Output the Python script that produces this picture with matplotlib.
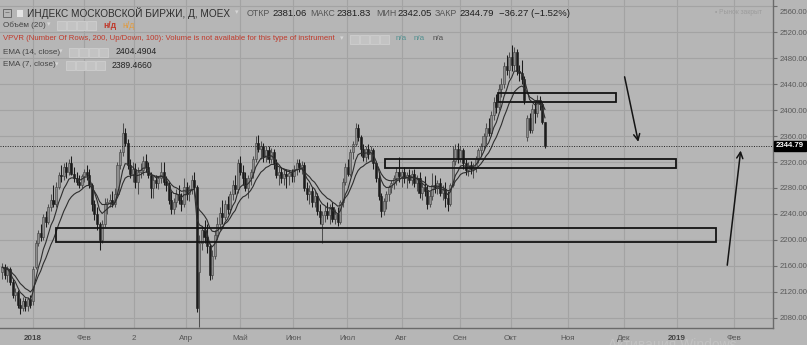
import numpy as np
import pandas as pd
import matplotlib
matplotlib.use("Agg")
import matplotlib.pyplot as plt
from matplotlib.patches import Rectangle
import matplotlib.transforms as mtransforms

plt.rcParams['font.family'] = ['Liberation Sans', 'DejaVu Sans']

# ---- daily OHLC (open, high, low, close) ----
dec17 = [(2150,2165,2140,2158),(2158,2162,2140,2145),(2145,2160,2135,2155),(2155,2158,2130,2135),
         (2135,2140,2110,2115),(2115,2125,2105,2120),(2120,2122,2095,2100),(2100,2110,2085,2095),
         (2095,2112,2090,2105),(2105,2110,2090,2098),(2098,2112,2090,2108),(2108,2115,2095,2100)]
jan = [(2105,2160,2100,2155),(2158,2200,2155,2195),(2195,2215,2190,2210),(2210,2225,2198,2205),
       (2205,2240,2200,2235),(2235,2245,2220,2228),(2228,2255,2225,2250),(2250,2270,2245,2262),
       (2262,2285,2250,2255),(2255,2290,2250,2282),(2282,2305,2278,2300),(2300,2315,2290,2298),
       (2298,2318,2292,2312),(2312,2320,2295,2305),(2305,2325,2300,2318),(2318,2330,2300,2302),
       (2302,2312,2290,2295),(2295,2305,2285,2290),(2290,2300,2280,2285),(2285,2302,2280,2298)]
feb = [(2298,2310,2290,2305),(2305,2315,2292,2300),(2300,2310,2280,2285),(2285,2288,2245,2255),
       (2255,2262,2230,2240),(2240,2250,2215,2225),(2225,2228,2185,2200),(2200,2230,2195,2225),
       (2225,2265,2220,2255),(2255,2265,2240,2258),(2258,2270,2250,2262),(2262,2275,2250,2255),
       (2255,2280,2250,2270),(2270,2320,2268,2315),(2315,2340,2310,2335),(2335,2380,2330,2365),
       (2365,2372,2345,2350),(2350,2355,2310,2315),(2315,2325,2295,2302)]
mar = [(2302,2320,2290,2310),(2310,2318,2280,2290),(2290,2312,2270,2305),(2305,2318,2295,2308),
       (2308,2330,2300,2322),(2322,2332,2305,2312),(2312,2320,2295,2300),(2300,2305,2265,2280),
       (2280,2298,2265,2292),(2292,2300,2280,2288),(2288,2298,2278,2295),(2295,2320,2288,2305),
       (2305,2320,2285,2290),(2290,2298,2275,2285),(2285,2290,2255,2262),(2262,2275,2240,2248),
       (2248,2265,2240,2258),(2258,2278,2250,2270),(2270,2285,2255,2262),(2262,2272,2245,2255)]
apr = [(2255,2295,2250,2282),(2282,2290,2262,2270),(2270,2285,2260,2278),(2278,2300,2270,2292),
       (2292,2305,2275,2282),(2282,2284,2088,2095),(2150,2208,2066,2195),(2195,2222,2185,2215),
       (2215,2230,2195,2205),(2205,2225,2180,2190),(2190,2195,2138,2145),(2145,2185,2140,2175),
       (2175,2215,2170,2208),(2208,2235,2200,2225),(2225,2250,2215,2242),(2242,2262,2225,2235),
       (2235,2262,2230,2255),(2255,2268,2240,2248),(2248,2275,2242,2270),(2270,2292,2262,2285),
       (2285,2300,2270,2278)]
may = [(2278,2325,2272,2318),(2318,2330,2300,2305),(2305,2315,2285,2295),(2295,2305,2275,2280),
       (2280,2300,2265,2295),(2295,2310,2285,2305),(2305,2330,2295,2325),(2325,2360,2320,2350),
       (2350,2362,2335,2340),(2340,2352,2325,2345),(2345,2350,2320,2328),(2328,2345,2320,2338),
       (2338,2345,2318,2325),(2325,2342,2318,2335),(2335,2340,2310,2318),(2318,2325,2295,2300),
       (2300,2312,2285,2305),(2305,2312,2288,2295),(2295,2310,2285,2302),(2302,2310,2280,2298)]
jun = [(2298,2308,2285,2303),(2303,2310,2290,2298),(2298,2315,2290,2310),(2310,2325,2300,2318),
       (2318,2325,2305,2312),(2312,2322,2302,2315),(2315,2320,2275,2280),(2280,2290,2262,2270),
       (2270,2285,2255,2275),(2275,2282,2250,2258),(2258,2275,2250,2268),(2268,2272,2238,2245),
       (2245,2255,2225,2235),(2225,2245,2195,2238),(2238,2252,2228,2245),(2245,2258,2232,2238),
       (2238,2255,2225,2250),(2250,2258,2228,2232),(2232,2248,2225,2240),(2240,2250,2222,2228)]
jul = [(2228,2262,2225,2258),(2258,2295,2250,2290),(2290,2318,2285,2312),(2312,2325,2298,2302),
       (2302,2340,2298,2335),(2335,2352,2325,2348),(2348,2380,2345,2372),(2372,2378,2352,2358),
       (2358,2362,2330,2340),(2340,2348,2322,2328),(2328,2345,2320,2340),(2340,2348,2325,2332),
       (2332,2345,2322,2338),(2338,2342,2310,2318),(2318,2322,2290,2295),(2295,2305,2262,2268),
       (2268,2272,2235,2245),(2245,2265,2238,2260),(2260,2275,2248,2270),(2270,2285,2260,2282),
       (2282,2292,2272,2288),(2288,2300,2278,2295)]
aug = [(2295,2312,2285,2305),(2305,2328,2290,2298),(2298,2310,2282,2305),(2305,2312,2288,2295),
       (2295,2305,2280,2300),(2300,2310,2288,2292),(2292,2308,2285,2302),(2302,2310,2282,2288),
       (2288,2300,2275,2295),(2295,2305,2265,2272),(2272,2290,2262,2282),(2282,2298,2268,2275),
       (2275,2285,2248,2255),(2255,2275,2250,2268),(2268,2303,2262,2285),(2285,2300,2272,2280),
       (2280,2292,2270,2288),(2288,2295,2268,2272),(2272,2285,2262,2278),(2278,2290,2250,2265),
       (2265,2275,2245,2255),(2255,2288,2252,2285),(2285,2345,2282,2322)]
sep = [(2322,2348,2315,2340),(2340,2350,2318,2325),(2325,2345,2320,2338),(2338,2342,2310,2318),
       (2318,2325,2300,2308),(2308,2320,2298,2315),(2315,2322,2302,2310),(2310,2318,2295,2312),
       (2312,2330,2305,2325),(2325,2342,2318,2338),(2338,2350,2330,2345),(2345,2365,2338,2360),
       (2360,2380,2348,2372),(2372,2388,2360,2365),(2365,2398,2360,2392),(2392,2420,2385,2412),
       (2412,2425,2395,2405),(2405,2440,2400,2432),(2432,2450,2420,2440),(2440,2475,2435,2468)]
octo = [(2468,2485,2455,2462),(2462,2490,2450,2482),(2482,2500,2460,2470),(2470,2498,2462,2490),
        (2490,2495,2455,2460),(2460,2470,2445,2458),(2458,2477,2440,2448),(2448,2452,2410,2415),
        (2358,2392,2352,2388),(2388,2395,2365,2370),(2370,2410,2365,2402),(2402,2412,2380,2395),
        (2395,2423,2390,2415),(2415,2422,2400,2410),(2410,2412,2378,2381.06),
        (2381.06,2381.83,2342.05,2344.79)]

last_price = 2344.79
month_labels = ['2018', 'Фев', '2', 'Апр', 'Май', 'Июн', 'Июл', 'Авг', 'Сен', 'Окт', 'Ноя', 'Дек', '2019', 'Фев']
month_pos = [0, 19.9, 39.5, 59.8, 80.9, 101.6, 122.7, 144.0, 166.8, 186.6, 209.0, 230.9, 251.6, 273.8]
price_ticks = list(range(2080, 2561, 40))

# zones drawn on the chart: (x_start, x_end, low, high)
zones = [(9.0, 266.8, 2196.7, 2218.7),
         (137.5, 251.2, 2310.3, 2324.2),
         (181.5, 227.6, 2412.5, 2426.4)]
# arrows: (x_from, y_from, x_to, y_to)
arrows = [(230.9, 2455.7, 236.7, 2347.0),
          (271.1, 2156.6, 276.6, 2342.0)]

bars = dec17 + jan + feb + mar + apr + may + jun + jul + aug + sep + octo
o, h, l, c = map(np.array, zip(*bars))
x = np.arange(len(bars)) - len(dec17)
ema14 = pd.Series(c).ewm(span=14, adjust=False).mean().values
ema7 = pd.Series(c).ewm(span=7, adjust=False).mean().values

W, H = 807, 345
BG = '#b6b6b6'
GRID = '#a3a3a3'
fig = plt.figure(figsize=(W / 100, H / 100), dpi=100, facecolor=BG)
ax = fig.add_axes([0, 17 / H, 773 / W, 328 / H], facecolor=BG)
ax.set_xlim(-12.9, 289.1)
ax.set_ylim(2064, 2570)

ax.set_yticks(price_ticks)
ax.set_yticklabels([f'{v:.2f}' for v in price_ticks])
ax.yaxis.tick_right()
ax.tick_params(axis='y', length=3, color='#6a6a6a', labelsize=5.6, labelcolor='#5a5a5a', pad=2)
top_lab = ax.get_yticklabels()[-1]
top_lab.set_transform(top_lab.get_transform() +
                      mtransforms.ScaledTranslation(0, -5 / 100, fig.dpi_scale_trans))
ax.set_xticks(month_pos)
ax.set_xticklabels(month_labels)
ax.tick_params(axis='x', length=0, labelsize=5.8, labelcolor='#555555', pad=5)
for t in ax.get_xticklabels():
    t.set_zorder(10)
    if t.get_text() in ('2018', '2019'):
        t.set_fontweight('bold')
        t.set_color('#444444')
ax.grid(True, color=GRID, lw=0.8)
ax.set_axisbelow(True)
for s in ('top', 'left'):
    ax.spines[s].set_visible(False)
for s in ('right', 'bottom'):
    ax.spines[s].set_color('#6a6a6a')
    ax.spines[s].set_linewidth(1.0)

up = c >= o
UPC, DNC = '#8e8e8e', '#1c1c1c'
ax.vlines(x, l, h, colors=np.where(up, '#505050', DNC), lw=0.75, zorder=3)
ax.bar(x, np.maximum(np.abs(c - o), 1.0), bottom=np.minimum(o, c), width=0.8,
       color=np.where(up, UPC, DNC), edgecolor=np.where(up, '#404040', DNC), linewidth=0.4, zorder=4)
ax.plot(x, ema14, color='#2e2e2e', lw=0.8, zorder=5)
ax.plot(x, ema7, color='#2e2e2e', lw=0.8, zorder=5)

for x0, x1, lo, hi in zones:
    ax.add_patch(Rectangle((x0, lo), x1 - x0, hi - lo, fill=False, ec='#141414', lw=1.3, zorder=6))
for xf, yf, xt, yt in arrows:
    ax.annotate('', xy=(xt, yt), xytext=(xf, yf),
                arrowprops=dict(arrowstyle='->', color='#141414', lw=1.1, mutation_scale=11), zorder=6)

ax.axhline(last_price, color='#222222', lw=0.7, ls=(0, (1, 1.5)), zorder=6)
trans = mtransforms.blended_transform_factory(ax.transAxes, ax.transData)
ax.text(1.004, last_price, f'{last_price:.2f}', transform=trans, ha='left', va='center',
        fontsize=5.6, fontweight='bold', color='white', clip_on=False, zorder=7,
        bbox=dict(boxstyle='square,pad=0.25', fc='black', ec='black'))


def ftxt(px, py, s, **kw):
    kw.setdefault('va', 'center')
    fig.text(px / W, 1 - py / H, s, **kw)


def icons(px, py, n=4):
    for k in range(n):
        fig.patches.append(Rectangle(((px + 10 * k) / W, 1 - (py + 4.5) / H), 9 / W, 9 / H,
                                     transform=fig.transFigure, fc='#c3c3c3', ec='#cfcfcf', lw=0.6))


# header line 1
fig.patches.append(Rectangle((3 / W, 1 - 17 / H), 8 / W, 8 / H, transform=fig.transFigure,
                             fill=False, ec='#6a6a6a', lw=0.7))
ftxt(4.3, 12.6, '−', fontsize=6, color='#6a6a6a')
fig.patches.append(Rectangle((17 / W, 1 - 16.5 / H), 6 / W, 7 / H, transform=fig.transFigure,
                             fc='#e4e4e4', ec='none'))
ftxt(27, 13, 'ИНДЕКС МОСКОВСКОЙ БИРЖИ, Д, MOEX', fontsize=7.2, color='#2e2e2e')
ftxt(235, 13, '▾', fontsize=5, color='#d6d6d6')
ftxt(247, 13, 'ОТКР', fontsize=6.4, color='#555555')
ftxt(272, 13, '2381.06', fontsize=6.8, color='#1e1e1e')
ftxt(310, 13, 'МАКС', fontsize=6.4, color='#555555')
ftxt(336, 13, '2381.83', fontsize=6.8, color='#1e1e1e')
ftxt(376, 13, 'МИН', fontsize=6.4, color='#555555')
ftxt(397, 13, '2342.05', fontsize=6.8, color='#1e1e1e')
ftxt(435, 13, 'ЗАКР', fontsize=6.4, color='#555555')
ftxt(459, 13, '2344.79', fontsize=6.8, color='#1e1e1e')
ftxt(499, 13, '−36.27 (−1.52%)', fontsize=6.8, color='#1e1e1e')
ftxt(715, 12, '• Рынок закрыт', fontsize=4.8, color='#9c9c9c')

# header line 2
ftxt(3, 25, 'Объём (20)', fontsize=5.9, color='#444444')
ftxt(47, 25, '▾', fontsize=5, color='#d6d6d6')
icons(57, 25)
ftxt(103, 25, 'н/д', fontsize=6.2, color='#c0392b', fontweight='bold')
ftxt(122, 25, 'н/д', fontsize=6.2, color='#e39a3a')

# header line 3
ftxt(3, 39, 'VPVR (Number Of Rows, 200, Up/Down, 100): Volume is not available for this type of instrument',
     fontsize=5.6, color='#c0392b')
ftxt(340, 39, '▾', fontsize=5, color='#d6d6d6')
icons(350, 39)
ftxt(396, 39, 'n/a', fontsize=5.8, color='#4f8f8f')
ftxt(414, 39, 'n/a', fontsize=5.8, color='#4f8f8f')
ftxt(433, 39, 'n/a', fontsize=5.8, color='#505050')

# header lines 4-5
ftxt(3, 52, 'EMA (14, close)', fontsize=5.9, color='#444444')
ftxt(59, 52, '▾', fontsize=5, color='#d6d6d6')
icons(69, 52)
ftxt(116, 52, '2404.4904', fontsize=6.2, color='#222222')
ftxt(3, 65, 'EMA (7, close)', fontsize=5.9, color='#444444')
ftxt(55, 65, '▾', fontsize=5, color='#d6d6d6')
icons(66, 65)
ftxt(112, 65, '2389.4660', fontsize=6.2, color='#222222')

# OS watermark (partly hidden behind the bottom edge)
fig.text(608 / W, 1 - 345 / H, 'Активация Windows', fontsize=10, color='#c2c2c2',
         va='center', zorder=-1)

fig.savefig('out.png', dpi=100, facecolor=BG)
